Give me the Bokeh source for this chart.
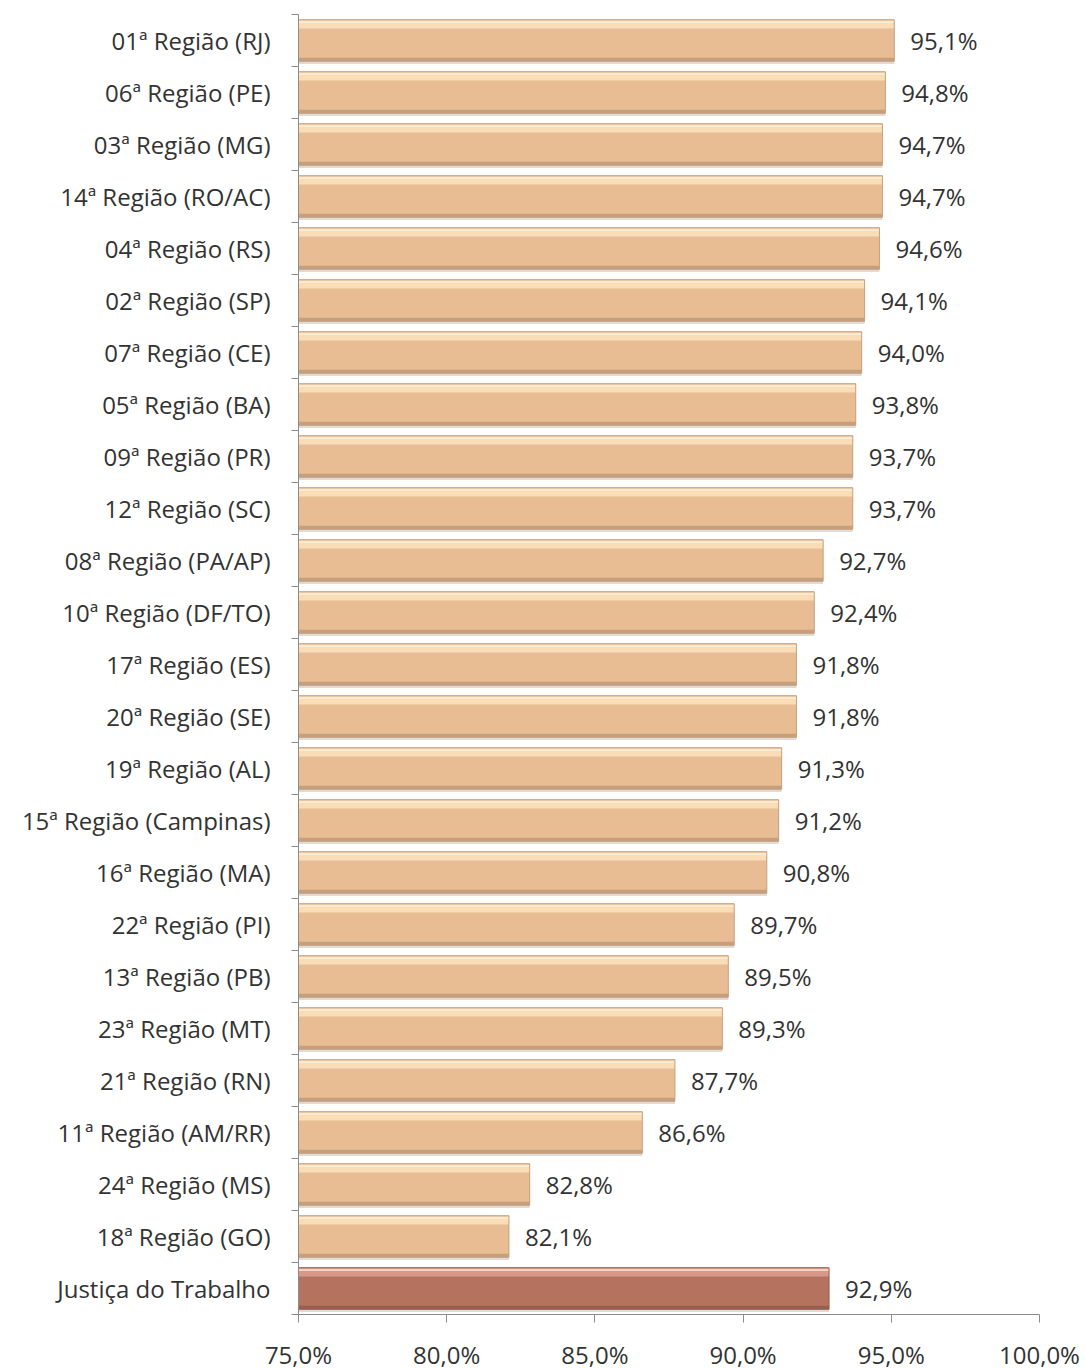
from bokeh.plotting import figure
from bokeh.models import ColumnDataSource, Range1d, FixedTicker
from bokeh.transform import dodge
from bokeh.core.properties import value
from bokeh.embed import file_html
from bokeh.resources import INLINE

regions = ["01ª Região (RJ)", "06ª Região (PE)", "03ª Região (MG)", "14ª Região (RO/AC)",
           "04ª Região (RS)", "02ª Região (SP)", "07ª Região (CE)", "05ª Região (BA)",
           "09ª Região (PR)", "12ª Região (SC)", "08ª Região (PA/AP)", "10ª Região (DF/TO)",
           "17ª Região (ES)", "20ª Região (SE)", "19ª Região (AL)", "15ª Região (Campinas)",
           "16ª Região (MA)", "22ª Região (PI)", "13ª Região (PB)", "23ª Região (MT)",
           "21ª Região (RN)", "11ª Região (AM/RR)", "24ª Região (MS)", "18ª Região (GO)",
           "Justiça do Trabalho"]
values = [95.1, 94.8, 94.7, 94.7, 94.6, 94.1, 94.0, 93.8, 93.7, 93.7, 92.7, 92.4, 91.8,
          91.8, 91.3, 91.2, 90.8, 89.7, 89.5, 89.3, 87.7, 86.6, 82.8, 82.1, 92.9]
x_ticks = [75, 80, 85, 90, 95, 100]

FONT = "Open Sans"
n = len(regions)
ys = [n - 1 - i for i in range(n)]
total = "Justiça do Trabalho"
base_col = ["#B5735F" if r == total else "#E8BD94" for r in regions]
hi_col = ["#D9978A" if r == total else "#F9DDB6" for r in regions]
lo_col = ["#8E5646" if r == total else "#B99372" for r in regions]
edge_col = ["#9E5E4D" if r == total else "#C8A07C" for r in regions]

src = ColumnDataSource(dict(
    y=ys, v=values, name=regions, base=base_col, hi=hi_col, lo=lo_col, edge=edge_col,
    lab=[f"{v:.1f}%".replace(".", ",") for v in values],
))

p = figure(width=1085, height=1368, frame_width=741, frame_height=1300,
           x_range=Range1d(75, 100), y_range=Range1d(-0.5, n - 0.5),
           output_backend="svg", toolbar_location=None,
           min_border_left=298, min_border_right=46, min_border_top=14, min_border_bottom=54)
p.outline_line_color = None
p.xgrid.grid_line_color = None
p.ygrid.grid_line_color = None
p.background_fill_color = "white"

H = 0.8
# shadow
p.hbar(y=dodge("y", -0.05, range=p.y_range), left=75, right="v", height=H, source=src,
       fill_color="#9a9a9a", fill_alpha=0.35, line_color=None)
# base bar
p.hbar(y="y", left=75, right="v", height=H, source=src,
       fill_color="base", line_color=None)
# top highlight
p.hbar(y=dodge("y", 0.30, range=p.y_range), left=75, right="v", height=0.14, source=src,
       fill_color="hi", line_color=None)
p.hbar(y=dodge("y", 0.36, range=p.y_range), left=75, right="v", height=0.05, source=src,
       fill_color="#FFF1DC", fill_alpha=0.7, line_color=None)
# bottom shade
p.hbar(y=dodge("y", -0.365, range=p.y_range), left=75, right="v", height=0.07, source=src,
       fill_color="lo", fill_alpha=0.7, line_color=None)
# outline
p.hbar(y="y", left=75, right="v", height=H, source=src,
       fill_alpha=0, line_color="edge", line_width=1)

p.text(x="v", y="y", text="lab", source=src, x_offset=16, text_baseline="middle",
       text_align="left", text_font=value(FONT), text_font_size="24px", text_color="#333333")

# axes
p.xaxis.ticker = FixedTicker(ticks=x_ticks)
p.xaxis.major_label_overrides = {t: f"{t:.1f}%".replace(".", ",") for t in x_ticks}
p.xaxis.minor_tick_line_color = None
p.xaxis.major_tick_in = 0
p.xaxis.major_tick_out = 8
p.xaxis.major_label_standoff = 15
p.xaxis.axis_line_color = "#8c8c8c"
p.xaxis.major_tick_line_color = "#8c8c8c"
p.xaxis.major_label_text_font = FONT
p.xaxis.major_label_text_font_size = "24px"
p.xaxis.major_label_text_color = "#333333"

p.yaxis.ticker = FixedTicker(ticks=ys, minor_ticks=[k - 0.5 for k in range(n + 1)])
p.yaxis.major_label_overrides = {y: r for y, r in zip(ys, regions)}
p.yaxis.major_tick_line_color = None
p.yaxis.major_tick_in = 0
p.yaxis.major_tick_out = 0
p.yaxis.minor_tick_in = 0
p.yaxis.minor_tick_out = 7
p.yaxis.minor_tick_line_color = "#8c8c8c"
p.yaxis.axis_line_color = "#8c8c8c"
p.yaxis.major_label_standoff = 21
p.yaxis.major_label_text_font = FONT
p.yaxis.major_label_text_font_size = "24px"
p.yaxis.major_label_text_color = "#333333"

open("out.html", "w").write(file_html(p, INLINE))
